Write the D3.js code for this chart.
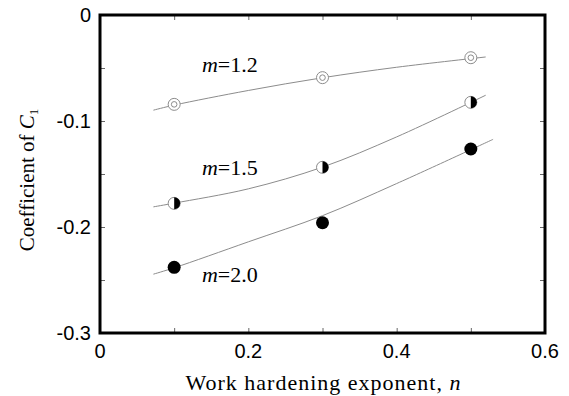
<!DOCTYPE html>
<html>
<head>
<meta charset="utf-8">
<script src="https://cdn.jsdelivr.net/npm/d3@7"></script>
<style>
  html, body { margin: 0; padding: 0; background: #fff; }
  svg { display: block; }
</style>
</head>
<body>
<svg id="chart" width="569" height="396"></svg>
<script>
// Measured coefficients (n, C1) for each strain-rate exponent m
const nValues = [0.1, 0.3, 0.5];
const c1_m12 = [-0.0843, -0.0591, -0.0403];
const c1_m15 = [-0.1777, -0.1437, -0.0824];
const c1_m20 = [-0.2380, -0.1960, -0.1264];

// Fitted trend curves (n, C1)
const fit_m12 = [[0.072, -0.0898], [0.1, -0.0850], [0.2, -0.0712], [0.3, -0.0592], [0.4, -0.0493], [0.52, -0.0396]];
const fit_m15 = [[0.072, -0.1810], [0.1, -0.1775], [0.2, -0.1640], [0.3, -0.1435], [0.4, -0.1150], [0.52, -0.0757]];
const fit_m20 = [[0.072, -0.2445], [0.1, -0.2385], [0.2, -0.2140], [0.3, -0.1893], [0.4, -0.1590], [0.53, -0.1173]];

const xTicks = [0, 0.2, 0.4, 0.6];
const yTicks = [0, -0.1, -0.2, -0.3];
const seriesLabels = ["1.2", "1.5", "2.0"];

(function () {
  const svg = d3.select("#chart");
  const pl = 100, pr = 545, pt = 15, pb = 333;

  const x = d3.scaleLinear().domain([0, 0.6]).range([pl, pr]);
  const y = d3.scaleLinear().domain([-0.3, 0]).range([pb, pt]);

  const lineGray = "#8c8c8c";
  const fmt = d => d === 0 ? "0" : d3.format(".1f")(d).replace("\u2212", "-");

  // Inward ticks on all four sides
  const tickLen = 5;
  const xt = d3.range(0.1, 0.6, 0.1);
  const yt = d3.range(-0.25, 0, 0.05);
  const tickAxis = (axis, tx, ty) => svg.append("g").attr("transform", `translate(${tx},${ty})`)
    .call(axis.tickSize(tickLen).tickFormat(""))
    .call(g => g.select(".domain").remove())
    .selectAll("line").attr("stroke", "#666");
  tickAxis(d3.axisTop(x).tickValues(xt), 0, pb);
  tickAxis(d3.axisBottom(x).tickValues(xt), 0, pt);
  tickAxis(d3.axisRight(y).tickValues(yt), pl, 0);
  tickAxis(d3.axisLeft(y).tickValues(yt), pr, 0);

  // Tick labels
  const tickFont = "Liberation Sans, Arial, sans-serif";
  svg.append("g").selectAll("text").data(xTicks).join("text")
    .attr("x", d => x(d)).attr("y", pb + 25)
    .attr("text-anchor", "middle")
    .attr("font-family", tickFont).attr("font-size", 20)
    .text(fmt);
  svg.append("g").selectAll("text").data(yTicks).join("text")
    .attr("x", pl - 9).attr("y", d => y(d) + 7)
    .attr("text-anchor", "end")
    .attr("font-family", tickFont).attr("font-size", 20)
    .text(fmt);

  // Fitted curves
  const line = d3.line().x(d => x(d[0])).y(d => y(d[1])).curve(d3.curveCatmullRom);
  [fit_m12, fit_m15, fit_m20].forEach(f => {
    svg.append("path").datum(f).attr("d", line)
      .attr("fill", "none").attr("stroke", lineGray).attr("stroke-width", 1);
  });

  const r = 6;
  // m = 1.2 : double circle
  const g12 = svg.append("g").selectAll("g").data(nValues.map((n, i) => [n, c1_m12[i]])).join("g")
    .attr("transform", d => `translate(${x(d[0])},${y(d[1])})`);
  g12.append("circle").attr("r", r).attr("fill", "#fff").attr("stroke", lineGray).attr("stroke-width", 1);
  g12.append("circle").attr("r", 2.8).attr("fill", "none").attr("stroke", lineGray).attr("stroke-width", 1);

  // m = 1.5 : half-filled circle (right half black)
  const g15 = svg.append("g").selectAll("g").data(nValues.map((n, i) => [n, c1_m15[i]])).join("g")
    .attr("transform", d => `translate(${x(d[0])},${y(d[1])})`);
  g15.append("circle").attr("r", r).attr("fill", "#fff").attr("stroke", lineGray).attr("stroke-width", 1);
  g15.append("path")
    .attr("d", d3.arc()({ innerRadius: 0, outerRadius: r, startAngle: 0, endAngle: Math.PI }))
    .attr("fill", "#000");

  // m = 2.0 : solid circle
  svg.append("g").selectAll("circle").data(nValues.map((n, i) => [n, c1_m20[i]])).join("circle")
    .attr("cx", d => x(d[0])).attr("cy", d => y(d[1])).attr("r", r + 0.5).attr("fill", "#000");

  // Series labels
  const serif = "Liberation Serif, Times New Roman, serif";
  const labelPos = [[0.1375, -0.0538], [0.1375, -0.1509], [0.1375, -0.2516]];
  seriesLabels.forEach((s, i) => {
    const t = svg.append("text")
      .attr("x", x(labelPos[i][0])).attr("y", y(labelPos[i][1]))
      .attr("font-family", serif).attr("font-size", 22);
    t.append("tspan").attr("font-style", "italic").text("m");
    t.append("tspan").text("=" + s);
  });

  // Frame
  svg.append("rect").attr("x", pl).attr("y", pt)
    .attr("width", pr - pl).attr("height", pb - pt)
    .attr("fill", "none").attr("stroke", "#000").attr("stroke-width", 3);

  // Axis titles
  const xTitle = svg.append("text")
    .attr("x", (pl + pr) / 2 + 1).attr("y", 390)
    .attr("text-anchor", "middle")
    .attr("font-family", serif).attr("font-size", 22)
    .attr("letter-spacing", 1);
  xTitle.append("tspan").text("Work hardening exponent, ");
  xTitle.append("tspan").attr("font-style", "italic").text("n");

  const yTitle = svg.append("text")
    .attr("transform", `translate(34,${(pt + pb) / 2 + 6}) rotate(-90)`)
    .attr("text-anchor", "middle")
    .attr("font-family", serif).attr("font-size", 21);
  yTitle.append("tspan").text("Coefficient of ");
  yTitle.append("tspan").attr("font-style", "italic").text("C");
  yTitle.append("tspan").attr("font-size", 13).attr("dy", 4).text("1");
})();
</script>
</body>
</html>
